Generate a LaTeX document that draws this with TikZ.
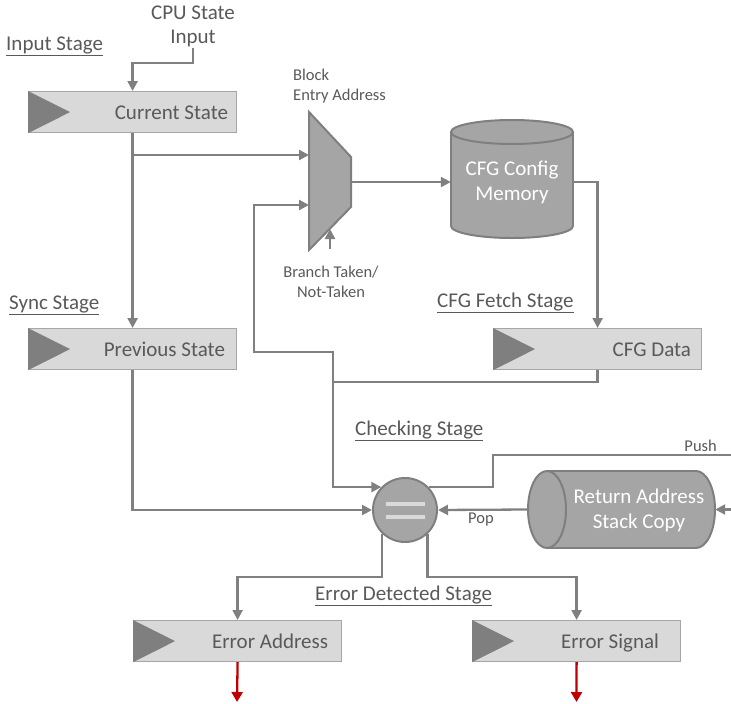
\documentclass[tikz,border=0pt]{standalone}
\usepackage{fontspec}
\setmainfont{Carlito}
\usetikzlibrary{arrows.meta,calc}
\definecolor{linegray}{HTML}{808080}
\definecolor{boxfill}{HTML}{D9D9D9}
\definecolor{boxborder}{HTML}{A6A6A6}
\definecolor{trigray}{HTML}{7F7F7F}
\definecolor{txtgray}{HTML}{595959}
\definecolor{shapefill}{HTML}{A5A5A5}
\definecolor{shapeborder}{HTML}{7F7F7F}
\definecolor{darkred}{HTML}{C00000}
\tikzset{
  ln/.style={draw=linegray, line width=2.3pt},
  arr/.style={ln, -{Triangle[length=10pt,width=10pt]}},
  redarr/.style={draw=darkred, line width=2.3pt, -{Triangle[length=10pt,width=11pt]}},
  regbox/.style={draw=boxborder, fill=boxfill, line width=1.2pt, minimum width=208pt,
    minimum height=41pt, inner sep=0pt, anchor=north west},
  boxtxt/.style={font=\fontsize{21}{25}\selectfont, text=txtgray, anchor=base east, inner sep=0pt},
  stage/.style={font=\fontsize{21}{25}\selectfont, text=txtgray, anchor=base west, inner sep=0pt},
  lbl/.style={font=\fontsize{21}{24}\selectfont, text=txtgray, inner sep=1pt},
  small/.style={font=\fontsize{16.5}{20}\selectfont, text=txtgray, inner sep=1pt},
  cyltxt/.style={font=\fontsize{21}{25}\selectfont, text=white, align=center, inner sep=0pt},
  shp/.style={fill=shapefill, draw=shapeborder, line width=2pt},
}
\begin{document}
\begin{tikzpicture}[x=1pt,y=-1pt]
\useasboundingbox (0,0) rectangle (731,704);

% registers
\node[regbox] (cur) at (28,91) {};
\node[regbox] (prev) at (28,328) {};
\node[regbox] (cfgd) at (493,328) {};
\node[regbox] (erra) at (133,620) {};
\node[regbox] (errs) at (472,620) {};
\foreach \n in {cur,prev,cfgd,erra,errs}
  \fill[trigray] (\n.north west) -- ($(\n.west)+(42,0)$) -- (\n.south west) -- cycle;
\node[boxtxt] (curT) at ($(cur.east)+(-9,7)$) {Current State};
\node[boxtxt] (prevT) at ($(prev.east)+(-12,7)$) {Previous State};
\node[boxtxt] (cfgdT) at ($(cfgd.east)+(-11,7)$) {CFG Data};
\node[boxtxt] (erraT) at ($(erra.east)+(-14,7)$) {Error Address};
\node[boxtxt] (errsT) at ($(errs.east)+(-22,7)$) {Error Signal};

% stage labels
\node[stage] (sIn) at (6,50) {\underline{Input Stage}};
\node[stage] (sSync) at (9,309) {\underline{Sync Stage}};
\node[stage] (sFetch) at (437,307) {\underline{CFG Fetch Stage}};
\node[stage] (sCheck) at (355,435) {\underline{Checking Stage}};
\node[stage] (sErr) at (315,600) {\underline{Error Detected Stage}};

% CPU input
\node[lbl, align=center] (cpu) at (193,26) {CPU State\\Input};
\coordinate (jog) at (0,63);

% multiplexer
\coordinate (m1) at (309,112);
\coordinate (m2) at (351,157);
\coordinate (m3) at (351,207);
\coordinate (m4) at (309,250);
\filldraw[shp] (m1) -- (m2) -- (m3) -- (m4) -- cycle;
\coordinate (muxin1) at (309,155);
\coordinate (muxin2) at (309,205);
\coordinate (muxout) at (351,182);
\coordinate (muxsel) at (330,229);
\coordinate (selfoot) at (330,249);
\node[small, align=left, anchor=west] (bea) at (292,86) {Block\\Entry Address};
\node[small, align=center] (bt) at (331,282) {Branch Taken/\\Not-Taken};

% CFG config memory (vertical cylinder)
\filldraw[shp] (512,226) ellipse (61 and 12);
\fill[shapefill] (451,132) rectangle (573,226);
\draw[shapeborder, line width=2pt] (451,132) -- (451,226) (573,132) -- (573,226);
\filldraw[shp] (512,132) ellipse (61 and 12);
\node[cyltxt, minimum width=122pt, minimum height=118pt] (cfgmem) at (512,182) {CFG Config\\Memory};

% return address stack copy (horizontal cylinder)
\filldraw[shp] (696,509.5) ellipse (19 and 38.5);
\fill[shapefill] (547,471) rectangle (696,548);
\draw[shapeborder, line width=2pt] (547,471) -- (696,471) (547,548) -- (696,548);
\filldraw[shp] (547,509.5) ellipse (19 and 38.5);
\node[minimum width=187pt, minimum height=77pt, inner sep=0pt] (stack) at (621.5,509.5) {};
\node[cyltxt] (stackT) at (639,510) {Return Address\\Stack Copy};

% comparator
\node[circle, shp, minimum size=64pt, inner sep=0pt] (cmp) at (405,510) {};
\filldraw[fill=boxfill, draw=boxborder, line width=0.8pt] ($(cmp)+(-20,-9)$) rectangle ($(cmp)+(20,-4)$);
\filldraw[fill=boxfill, draw=boxborder, line width=0.8pt] ($(cmp)+(-20,4)$) rectangle ($(cmp)+(20,9)$);

\coordinate (jn) at (333,382);
\coordinate (fb) at (254,352);
\coordinate (pushc) at (493,455);
\coordinate (pushe) at (731,455);
\coordinate (stin) at (731,509.5);
\coordinate (errbus) at (0,577);
\coordinate (eaOut) at (237,702);
\coordinate (esOut) at (576.5,702);
\node[small, anchor=base east] (push) at (718,451) {Push};
\node[small] (pop) at (481,520) {Pop};

% connectors
\draw[arr] (cpu.south) -- (cpu.south |- jog) -| (cur.north);
\draw[arr] (cur.south) -- (prev.north);
\draw[arr] (cur.south |- muxin1) -- (muxin1);
\draw[arr] (selfoot) -- (muxsel);
\draw[arr] (prev.south) |- (cmp.west);
\draw[arr] (muxout) -- (cfgmem.west |- muxout);
\draw[arr] (cfgmem.east |- muxout) -| (cfgd.north);
\draw[arr] (cfgd.south) |- (jn) |- (cmp.136.6);
\draw[arr] (jn) |- (fb) |- (muxin2);
\draw[ln] (cmp.44) -| (pushc) -- (pushe);
\draw[arr] (stack.west) -- (cmp.east);
\draw[arr] (stin) -- (stack.east);
\draw[arr] (cmp.226.6) -- (cmp.226.6 |- errbus) -| (erra.north);
\draw[arr] (cmp.313.4) -- (cmp.313.4 |- errbus) -| (errs.north);
\draw[redarr] (erra.south) -- (eaOut);
\draw[redarr] (errs.south) -- (esOut);
\end{tikzpicture}
\end{document}
